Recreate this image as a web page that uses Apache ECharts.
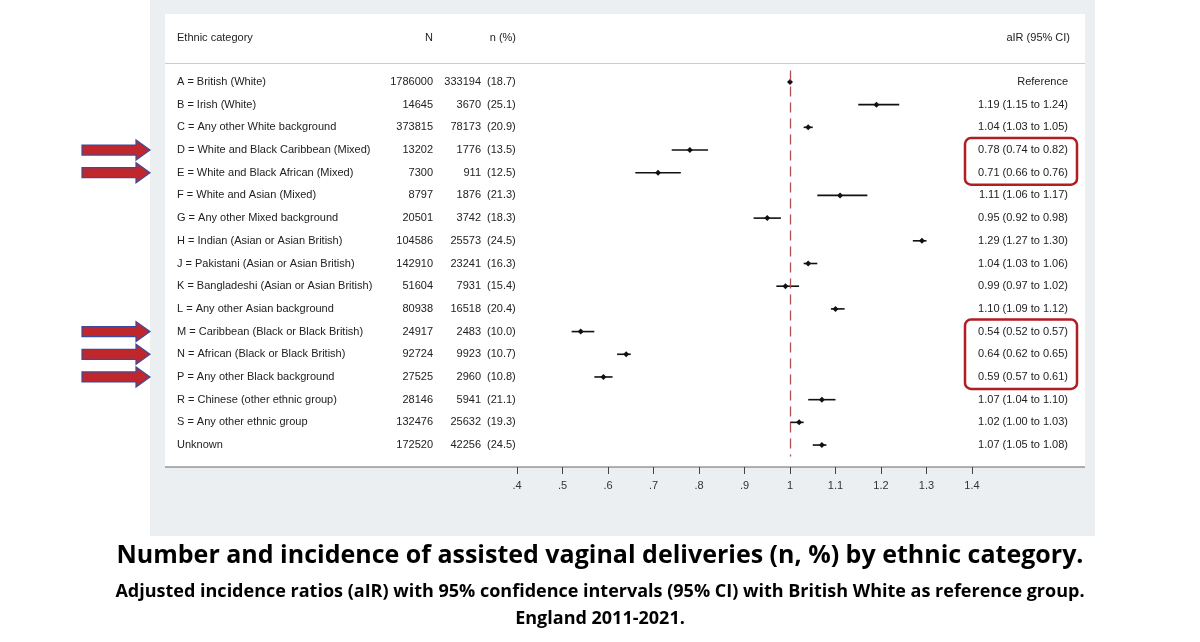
<!DOCTYPE html>
<html><head><meta charset="utf-8">
<script src="https://cdn.jsdelivr.net/npm/echarts@6/dist/echarts.min.js"></script>
<style>html,body{margin:0;padding:0;background:#fff}#c{width:1200px;height:642px}</style>
</head><body><div id="c"></div>
<script>
const categories=["A = British (White)","B = Irish (White)","C = Any other White background","D = White and Black Caribbean (Mixed)","E = White and Black African (Mixed)","F = White and Asian (Mixed)","G = Any other Mixed background","H = Indian (Asian or Asian British)","J = Pakistani (Asian or Asian British)","K = Bangladeshi (Asian or Asian British)","L = Any other Asian background","M = Caribbean (Black or Black British)","N = African (Black or Black British)","P = Any other Black background","R = Chinese (other ethnic group)","S = Any other ethnic group","Unknown"];
const totalN=[1786000,14645,373815,13202,7300,8797,20501,104586,142910,51604,80938,24917,92724,27525,28146,132476,172520];
const countN=[333194,3670,78173,1776,911,1876,3742,25573,23241,7931,16518,2483,9923,2960,5941,25632,42256];
const pct=[18.7,25.1,20.9,13.5,12.5,21.3,18.3,24.5,16.3,15.4,20.4,10.0,10.7,10.8,21.1,19.3,24.5];
const air=[1.00,1.19,1.04,0.78,0.71,1.11,0.95,1.29,1.04,0.99,1.10,0.54,0.64,0.59,1.07,1.02,1.07];
const lo=[null,1.15,1.03,0.74,0.66,1.06,0.92,1.27,1.03,0.97,1.09,0.52,0.62,0.57,1.04,1.00,1.05];
const hi=[null,1.24,1.05,0.82,0.76,1.17,0.98,1.30,1.06,1.02,1.12,0.57,0.65,0.61,1.10,1.03,1.08];
const tickLabels={"0.4":".4","0.5":".5","0.6":".6","0.7":".7","0.8":".8","0.9":".9","1":"1","1.1":"1.1","1.2":"1.2","1.3":"1.3","1.4":"1.4"};
const highlighted=[3,4,11,12,13];

const chart=echarts.init(document.getElementById('c'));
const F='"Liberation Sans", Arial, sans-serif';
const data=categories.map((c,i)=>[air[i],i,lo[i],hi[i]]);
chart.setOption({
  animation:false,
  grid:{left:517,right:228,top:70.6,bottom:185.6},
  xAxis:{type:'value',min:0.4,max:1.4,interval:0.1,offset:10.6,
    axisLine:{show:false},axisTick:{show:true,length:7,lineStyle:{color:'#444'}},
    splitLine:{show:false},
    axisLabel:{color:'#333',fontSize:11,fontFamily:F,margin:13,
      formatter:v=>tickLabels[String(Math.round(v*10)/10)]||''}},
  yAxis:{type:'category',data:categories,inverse:true,show:false},
  series:[{type:'custom',data:data,
    renderItem:(p,api)=>{
      const y=api.coord([api.value(0),api.value(1)]);
      const ch=[];
      const l=api.value(2),h=api.value(3);
      if(!isNaN(l)&&l!==null&&!isNaN(h)){
        const a=api.coord([l,api.value(1)]),b=api.coord([h,api.value(1)]);
        ch.push({type:'line',shape:{x1:a[0],y1:a[1],x2:b[0],y2:b[1]},style:{stroke:'#111',lineWidth:1.6}});
      }
      ch.push({type:'polygon',shape:{points:[[y[0]-3,y[1]],[y[0],y[1]-3],[y[0]+3,y[1]],[y[0],y[1]+3]]},style:{fill:'#111'}});
      return {type:'group',children:ch};
    },
    markLine:{silent:true,symbol:'none',label:{show:false},
      lineStyle:{color:'#b05050',type:[10,6],width:1.3},data:[{xAxis:1}]}
  }]
});

const g=[];
g.push({type:'rect',shape:{x:150,y:0,width:945,height:536},style:{fill:'#eceff2'},z:-10});
g.push({type:'rect',shape:{x:165,y:14,width:920,height:453},style:{fill:'#fff'},z:-9});
g.push({type:'line',shape:{x1:165,y1:63.5,x2:1085,y2:63.5},style:{stroke:'#ccc',lineWidth:1}});
g.push({type:'line',shape:{x1:165,y1:467,x2:1085,y2:467},style:{stroke:'#666',lineWidth:1.2}});
const ts=(x,y,t,align)=>({type:'text',x:x,y:y,style:{text:t,fill:'#222',font:'11px '+F,align:align,verticalAlign:'middle'}});
g.push(ts(177,38,'Ethnic category','left'));
g.push(ts(433,38,'N','right'));
g.push(ts(516,38,'n (%)','right'));
g.push(ts(1070,38,'aIR (95% CI)','right'));
categories.forEach((c,i)=>{
  const y=chart.convertToPixel({yAxisIndex:0},i);
  g.push(ts(177,y,c,'left'));
  g.push(ts(433,y,String(totalN[i]),'right'));
  g.push(ts(481,y,String(countN[i]),'right'));
  g.push(ts(487,y,'('+pct[i].toFixed(1)+')','left'));
  const t=lo[i]===null?'Reference':air[i].toFixed(2)+' ('+lo[i].toFixed(2)+' to '+hi[i].toFixed(2)+')';
  g.push(ts(1068,y,t,'right'));
});
const yD=chart.convertToPixel({yAxisIndex:0},3),yE=chart.convertToPixel({yAxisIndex:0},4);
const yM=chart.convertToPixel({yAxisIndex:0},11),yP=chart.convertToPixel({yAxisIndex:0},13);
g.push({type:'rect',shape:{x:965,y:yD-12,width:112,height:yE-yD+24,r:6},style:{fill:'none',stroke:'#b01e23',lineWidth:2.5}});
g.push({type:'rect',shape:{x:965,y:yM-12,width:112,height:yP-yM+24,r:6},style:{fill:'none',stroke:'#b01e23',lineWidth:2.5}});
highlighted.forEach(i=>{
  const y=chart.convertToPixel({yAxisIndex:0},i);
  g.push({type:'polygon',shape:{points:[[82,y-5],[136,y-5],[136,y-10],[150,y],[136,y+10],[136,y+5],[82,y+5]]},
    style:{fill:'#c0272d',stroke:'#3b4a9c',lineWidth:1.2}});
});
g.push({type:'text',x:600,y:556,style:{text:'Number and incidence of assisted vaginal deliveries (n, %) by ethnic category.',fill:'#000',font:'bold 25px "Open Sans", '+F,align:'center',verticalAlign:'middle'}});
g.push({type:'text',x:600,y:592,style:{text:'Adjusted incidence ratios (aIR) with 95% confidence intervals (95% CI) with British White as reference group.',fill:'#000',font:'bold 18px "Open Sans", '+F,align:'center',verticalAlign:'middle'}});
g.push({type:'text',x:600,y:619,style:{text:'England 2011-2021.',fill:'#000',font:'bold 18px "Open Sans", '+F,align:'center',verticalAlign:'middle'}});
chart.setOption({graphic:g});
</script></body></html>
